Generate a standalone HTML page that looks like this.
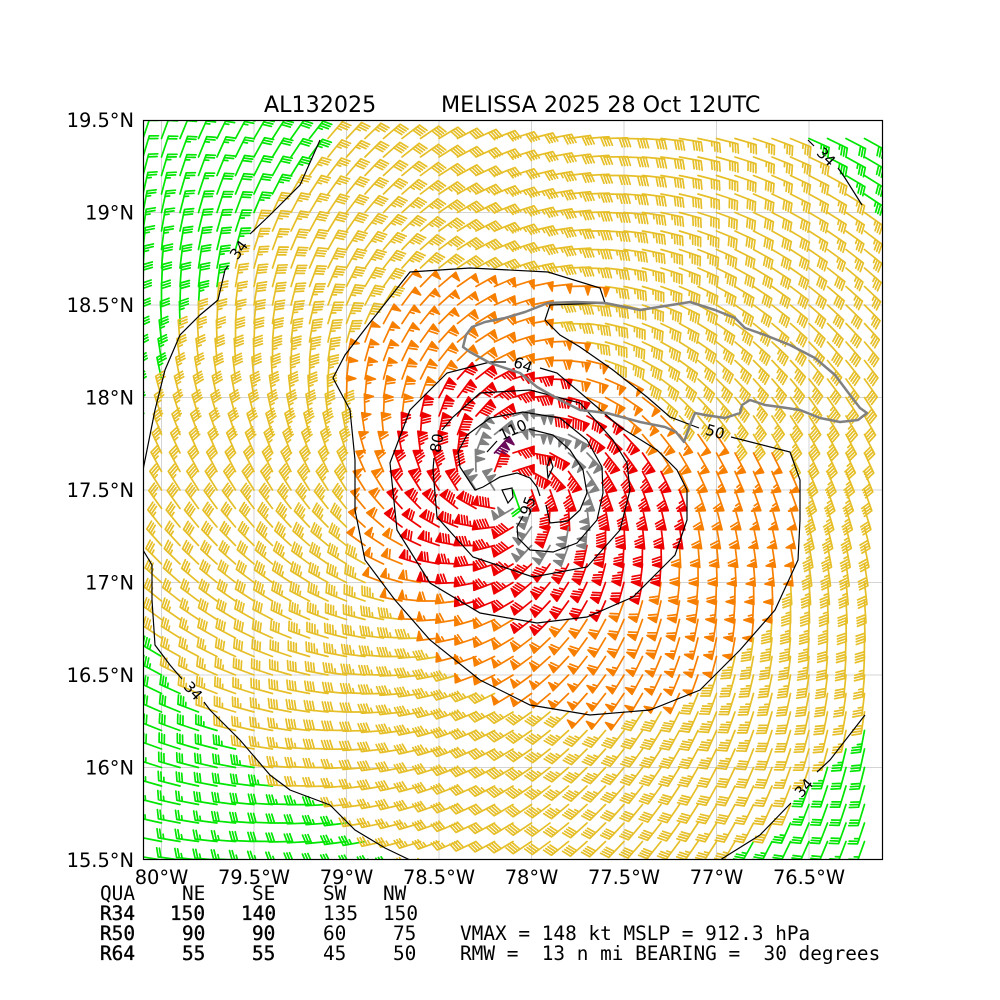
<!DOCTYPE html>
<html><head><meta charset="utf-8">
<style>
html,body{margin:0;padding:0;background:#fff;}
svg{display:block;}
text{font-family:"DejaVu Sans","Liberation Sans",sans-serif;fill:#000;}
.mono{font-family:"DejaVu Sans Mono","Liberation Mono",monospace;}
</style></head><body>
<svg id="s" width="1000" height="1000" viewBox="0 0 1000 1000" xmlns="http://www.w3.org/2000/svg">
<defs><clipPath id="ax"><rect x="143" y="120" width="740" height="740"/></clipPath></defs>
<rect width="1000" height="1000" fill="#fff"/>
<g stroke="#d4d4d4" stroke-width="1">
<line x1="161.5" y1="120" x2="161.5" y2="860"/><line x1="254" y1="120" x2="254" y2="860"/><line x1="346.5" y1="120" x2="346.5" y2="860"/><line x1="439" y1="120" x2="439" y2="860"/><line x1="531.5" y1="120" x2="531.5" y2="860"/><line x1="624" y1="120" x2="624" y2="860"/><line x1="716.5" y1="120" x2="716.5" y2="860"/><line x1="809" y1="120" x2="809" y2="860"/>
<line x1="143" y1="212.5" x2="883" y2="212.5"/><line x1="143" y1="305" x2="883" y2="305"/><line x1="143" y1="397.5" x2="883" y2="397.5"/><line x1="143" y1="490" x2="883" y2="490"/><line x1="143" y1="582.5" x2="883" y2="582.5"/><line x1="143" y1="675" x2="883" y2="675"/><line x1="143" y1="767.5" x2="883" y2="767.5"/>
</g>
<g id="barbs" clip-path="url(#ax)"></g>
<g fill="none" stroke="#000" stroke-width="1.2" clip-path="url(#ax)">
<polyline points="320,140 300,185 270,215 250,234"/>
<polyline points="228,266 225,270 218,300 200,315 180,335 165,370 155,410 145,460 143,470"/>
<polyline points="143,550 152,565 152,600 155,645 170,665 182,679"/>
<polyline points="204,702 210,710 240,740 270,775 290,790 330,805 355,830 385,848 410,860"/>
<polyline points="720,860 760,835 791,803"/>
<polyline points="817,772 830,760 865,715"/>
<polyline points="808,140 814,146"/>
<polyline points="838,168 845,178 862,205"/>
<polyline points="731,437 790,452 800,480 800,520 798,560 775,610 740,650 700,690 650,710 590,715 530,705 480,680 430,640 395,600 365,560 355,510 355,460 350,410 333,378 345,355 372,320 410,272 470,268 548,272 600,288 605,303 550,305 545,320 560,335 580,347 613,370 647,397 670,417 699,428"/>
<polyline points="540,368 557,373 597,407 620,427 657,450 677,470 687,490 687,520 675,555 667,563 633,597 587,617 537,623 480,613 430,583 397,530 390,463 410,410 447,373 490,362 506,362"/>
<polyline points="434,458 433,470 437,517 473,557 533,577 587,567 620,530 630,490 627,463 613,440 580,403 530,390 480,393 453,417 442,430"/>
<polyline points="523,516 517,527 518,538 530,550 553,552 577,543 597,520 603,493 602,467 587,440 560,418 523,412 490,418 467,435 458,452 460,467 475,490 483,487 500,477 517,473 530,478 537,487 540,496"/>
<polyline points="487,452 497,441"/>
<polyline points="529,429 553,435 570,450 583,470 587,493 580,510 568,521 550,523 546,505"/>
<polygon points="550,458 553,467 548,478 547,467"/>
<polygon points="502,490 512,488 513,497 508,503"/>
</g>
<g font-size="15">
<text transform="translate(239,250) rotate(-54)" text-anchor="middle" dy="5">34</text>
<text transform="translate(193,691) rotate(48)" text-anchor="middle" dy="5">34</text>
<text transform="translate(804,788) rotate(-48)" text-anchor="middle" dy="5">34</text>
<text transform="translate(826,157) rotate(45)" text-anchor="middle" dy="5">34</text>
<text transform="translate(715,432) rotate(16)" text-anchor="middle" dy="5">50</text>
<text transform="translate(523,365) rotate(20)" text-anchor="middle" dy="5">64</text>
<text transform="translate(437,443) rotate(-80)" text-anchor="middle" dy="5">80</text>
<text transform="translate(528,506) rotate(-70)" text-anchor="middle" dy="5">95</text>
<text transform="translate(513,430) rotate(-25)" text-anchor="middle" dy="5">110</text>
</g>
<path d="M463,347 L466,335 L472,327 L485,322 L505,318 L525,312 L548,303 L575,302 L605,303 L640,310 L665,306 L690,302 L715,310 L735,318 L745,328 L765,335 L790,345 L815,358 L835,375 L850,395 L860,408 L867,413 L858,420 L840,422 L820,418 L800,410 L780,407 L765,405 L750,400 L742,405 L740,413 L725,418 L705,415 L695,413 L690,425 L684,442 L676,432 L665,427 L640,422 L607,413 L580,410 L560,400 L537,387 L520,373 L490,363 L470,352 Z" fill="none" stroke="#808080" stroke-width="2.5" stroke-linejoin="round"/>
<rect x="143.5" y="120.5" width="739" height="739" fill="none" stroke="#000" stroke-width="1.2"/>
<g font-size="22.2">
<text x="264" y="112">AL132025</text>
<text x="441" y="112">MELISSA 2025 28 Oct 12UTC</text>
</g>
<g font-size="19.4" text-anchor="end">
<text x="134" y="127">19.5°N</text><text x="134" y="219.5">19°N</text><text x="134" y="312">18.5°N</text><text x="134" y="404.5">18°N</text><text x="134" y="497">17.5°N</text><text x="134" y="589.5">17°N</text><text x="134" y="682">16.5°N</text><text x="134" y="774.5">16°N</text><text x="134" y="867">15.5°N</text>
</g>
<g font-size="19.4" text-anchor="middle">
<text x="161.5" y="884">80°W</text><text x="254" y="884">79.5°W</text><text x="346.5" y="884">79°W</text><text x="439" y="884">78.5°W</text><text x="531.5" y="884">78°W</text><text x="624" y="884">77.5°W</text><text x="716.5" y="884">77°W</text><text x="809" y="884">76.5°W</text>
</g>
<g class="mono" font-size="19.4">
<text class="mono" x="100" y="900">QUA</text><text class="mono" x="182" y="900">NE</text><text class="mono" x="252" y="900">SE</text><text class="mono" x="323" y="900">SW</text><text class="mono" x="383" y="900">NW</text>
<text class="mono" x="100" y="920" stroke="#000" stroke-width="0.35">R34</text><text class="mono" x="170" y="920" stroke="#000" stroke-width="0.35">150</text><text class="mono" x="241" y="920" stroke="#000" stroke-width="0.35">140</text><text class="mono" x="323" y="920">135</text><text class="mono" x="383" y="920">150</text>
<text class="mono" x="100" y="940" stroke="#000" stroke-width="0.35">R50</text><text class="mono" x="182" y="940" stroke="#000" stroke-width="0.35">90</text><text class="mono" x="252" y="940" stroke="#000" stroke-width="0.35">90</text><text class="mono" x="323" y="940">60</text><text class="mono" x="393" y="940">75</text>
<text class="mono" x="100" y="960" stroke="#000" stroke-width="0.35">R64</text><text class="mono" x="182" y="960" stroke="#000" stroke-width="0.35">55</text><text class="mono" x="252" y="960" stroke="#000" stroke-width="0.35">55</text><text class="mono" x="323" y="960">45</text><text class="mono" x="393" y="960">50</text>
<text class="mono" x="460" y="940">VMAX = 148 kt MSLP = 912.3 hPa</text>
<text class="mono" x="460" y="960" xml:space="preserve">RMW =  13 n mi BEARING =  30 degrees</text>
</g>
</svg>
<script>
(function(){
const P34=[[320,140],[300,185],[270,215],[245,240],[225,270],[218,300],[200,315],[180,335],[165,370],[155,410],[145,460],[143,470],[120,510],[143,550],[152,565],[152,600],[155,645],[170,665],[190,690],[210,710],[240,740],[270,775],[290,790],[330,805],[355,830],[385,848],[410,860],[560,930],[720,860],[760,835],[795,800],[830,760],[865,715],[880,700],[940,480],[880,230],[862,205],[845,178],[820,150],[808,140],[790,110],[560,60],[335,110]];
const P50=[[715,432],[740,440],[790,452],[800,480],[800,520],[798,560],[775,610],[740,650],[700,690],[650,710],[590,715],[530,705],[480,680],[430,640],[395,600],[365,560],[355,510],[355,460],[350,410],[333,378],[345,355],[372,320],[410,272],[470,268],[548,272],[600,288],[605,303],[550,305],[545,320],[560,335],[580,347],[613,370],[647,397],[670,417],[697,427]];
const P64=[[523,363],[557,373],[597,407],[620,427],[657,450],[677,470],[687,490],[687,520],[675,555],[667,563],[633,597],[587,617],[537,623],[480,613],[430,583],[397,530],[390,463],[410,410],[447,373],[490,362]];
const P80=[[437,443],[433,470],[437,517],[473,557],[533,577],[587,567],[620,530],[630,490],[627,463],[613,440],[580,403],[530,390],[480,393],[453,417]];
const P95=[[520,523],[518,538],[530,550],[553,552],[577,543],[597,520],[603,493],[602,467],[587,440],[560,418],[523,412],[490,418],[467,435],[458,452],[460,467],[475,490],[500,505]];
function pip(x,y,p){let c=false;for(let i=0,j=p.length-1;i<p.length;j=i++){const xi=p[i][0],yi=p[i][1],xj=p[j][0],yj=p[j][1];if(((yi>y)!=(yj>y))&&(x<(xj-xi)*(y-yi)/(yj-yi)+xi))c=!c;}return c;}
function pd(x,y,p){let m=1e9;for(let i=0,j=p.length-1;i<p.length;j=i++){const ax=p[j][0],ay=p[j][1],bx=p[i][0],by=p[i][1];const dx=bx-ax,dy=by-ay;let t=((x-ax)*dx+(y-ay)*dy)/(dx*dx+dy*dy||1);t=Math.max(0,Math.min(1,t));const d=Math.hypot(x-ax-t*dx,y-ay-t*dy);if(d<m)m=d;}return m;}
function band(x,y,o,n,a,b){const d1=pd(x,y,o),d2=pd(x,y,n);return a+(b-a)*d1/(d1+d2);}
function speed(x,y){
 if(Math.hypot(x-513,y-490)<6)return 22;
 if(Math.hypot(x-494.5,y-453)<3)return 125;
 if(pip(x,y,P95)){const d=pd(x,y,P95);return d<22?100:85;}
 if(pip(x,y,P80))return Math.min(92,band(x,y,P80,P95,80,95));
 if(pip(x,y,P64))return band(x,y,P64,P80,64,80);
 if(pip(x,y,P50))return Math.min(62,band(x,y,P50,P64,50,64));
 if(pip(x,y,P34))return Math.min(47,band(x,y,P34,P50,34,50));
 return Math.max(18,34-pd(x,y,P34)/10);
}
function col(s){if(s<34)return'#00e600';if(s<50)return'#e6bf28';if(s<64)return'#f77f00';if(s<95)return'#ee0000';if(s<110)return'#808080';return'#6a0a5a';}
const EX=513,EY=490,AL=25*Math.PI/180,TX=0.05,TY=0.15;
const L=22,FH=L*0.4,FW=L*0.25,SP=L*0.125;
const paths={};
function f(n){return n.toFixed(1);}
for(let i=0;i<40;i++){for(let j=0;j<40;j++){
 const x=143+18.5*i,y=860-18.5*j;
 const s0=speed(x,y);
 const gx=x-EX,gy=-(y-EY);
 let a=Math.atan2(gy,gx)+Math.PI/2+AL;
 let bx=Math.cos(a)+TX,by=Math.sin(a)+TY;
 const th=Math.atan2(by,bx);
 const ph=th+Math.PI/2,c=Math.cos(ph),sn=Math.sin(ph);
 let s=5*Math.floor(s0/5+0.5);
 const nf=Math.floor(s/50);let r=s-nf*50;const nb=Math.floor(r/10);r-=nb*10;const half=r>=5;
 const v=[[0,0]];let off=L;
 for(let k=0;k<nf;k++){if(off!=L)off+=SP/2;v.push([0,off],[FH,off-FW/2],[0,off-FW]);off-=FW+SP;}
 for(let k=0;k<nb;k++){v.push([0,off],[FH,off+FW/2],[0,off]);off-=SP;}
 if(half){if(off==L){v.push([0,off]);off-=1.5*SP;}v.push([0,off],[FH/2,off+FW/4],[0,off]);}
 let d='';
 for(let k=0;k<v.length;k++){const lx=v[k][0],ly=v[k][1];const X=x+(lx*c-ly*sn),Y=y-(lx*sn+ly*c);d+=(k?'L':'M')+f(X)+','+f(Y);}
 const cl=col(s0);paths[cl]=(paths[cl]||'')+d;
}}
const g=document.getElementById('barbs');
for(const cl in paths){const p=document.createElementNS('http://www.w3.org/2000/svg','path');p.setAttribute('d',paths[cl]);p.setAttribute('fill',cl);p.setAttribute('stroke',cl);p.setAttribute('stroke-width','1.7');p.setAttribute('stroke-linejoin','round');p.setAttribute('stroke-linecap','round');g.appendChild(p);}
})();
</script>
</body></html>
